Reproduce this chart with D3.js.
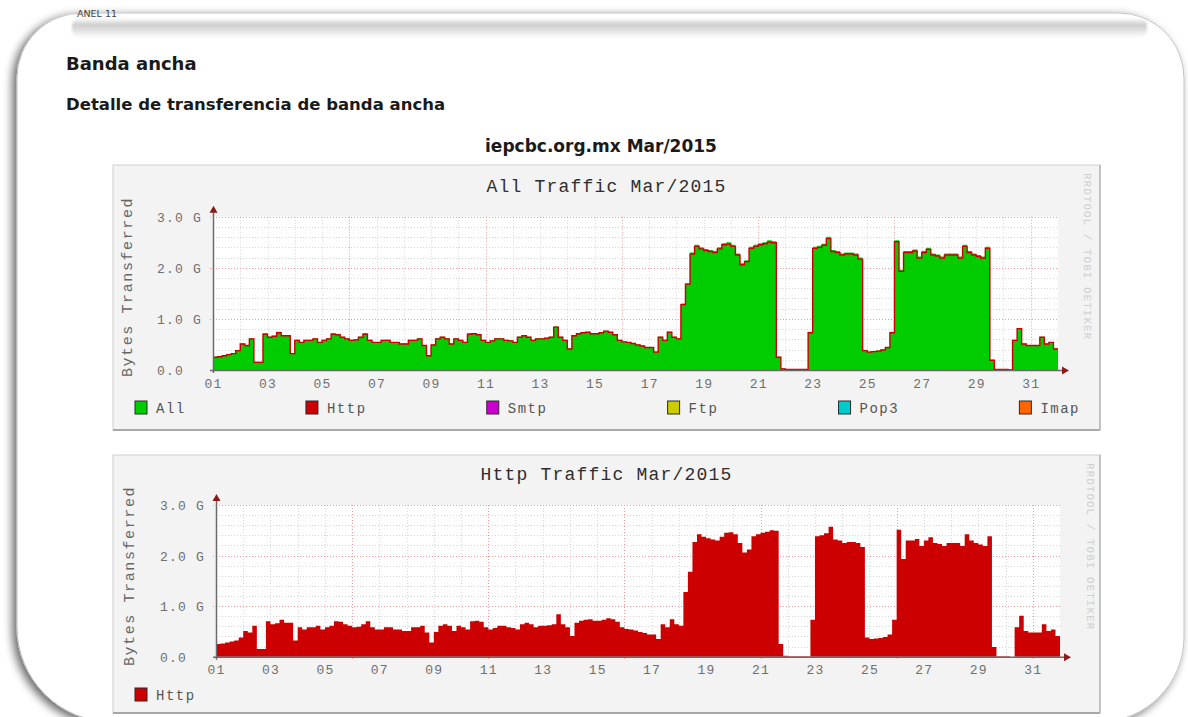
<!DOCTYPE html>
<html>
<head>
<meta charset="utf-8">
<title>Banda ancha</title>
<script src="https://cdn.jsdelivr.net/npm/d3@7"></script>
<style>
  html, body { margin: 0; padding: 0; background: #ffffff; }
  svg { display: block; }
</style>
</head>
<body>
<svg id="page" width="1188" height="717"></svg>
<script>
// ---------------------------------------------------------------
// Traffic for March 2015, in gigabytes, one value every 4 hours
// (six samples per day, 01 00:00 through 31 20:00).
// ---------------------------------------------------------------
const samplesPerDay = 6;

const allTraffic = [
  0.26, 0.27, 0.29, 0.31, 0.33, 0.39,   // 01
  0.52, 0.49, 0.62, 0.16, 0.16, 0.72,   // 02
  0.65, 0.67, 0.75, 0.68, 0.68, 0.33,   // 03
  0.59, 0.55, 0.59, 0.59, 0.62, 0.55,   // 04
  0.59, 0.62, 0.72, 0.70, 0.65, 0.62,   // 05
  0.59, 0.60, 0.65, 0.72, 0.59, 0.55,   // 06
  0.55, 0.59, 0.59, 0.55, 0.55, 0.52,   // 07
  0.52, 0.59, 0.59, 0.62, 0.49, 0.29,   // 08
  0.50, 0.62, 0.65, 0.62, 0.52, 0.62,   // 09
  0.59, 0.55, 0.72, 0.72, 0.70, 0.59,   // 10
  0.55, 0.58, 0.62, 0.62, 0.59, 0.58,   // 11
  0.55, 0.65, 0.68, 0.65, 0.59, 0.62,   // 12
  0.62, 0.63, 0.65, 0.85, 0.65, 0.59,   // 13
  0.42, 0.68, 0.72, 0.74, 0.75, 0.72,   // 14
  0.72, 0.74, 0.77, 0.75, 0.70, 0.59,   // 15
  0.56, 0.55, 0.53, 0.50, 0.48, 0.45,   // 16
  0.45, 0.36, 0.65, 0.59, 0.75, 0.65,   // 17
  0.62, 1.30, 1.70, 2.30, 2.45, 2.40,   // 18
  2.37, 2.35, 2.33, 2.40, 2.48, 2.50,   // 19
  2.45, 2.28, 2.09, 2.15, 2.41, 2.45,   // 20
  2.48, 2.50, 2.54, 2.52, 0.26, 0.03,   // 21
  0.02, 0.02, 0.02, 0.02, 0.02, 0.75,   // 22
  2.41, 2.43, 2.47, 2.61, 2.35, 2.33,   // 23
  2.28, 2.30, 2.30, 2.28, 2.20, 0.39,   // 24
  0.36, 0.37, 0.38, 0.40, 0.45, 0.75,   // 25
  2.54, 1.96, 2.33, 2.33, 2.36, 2.22,   // 26
  2.33, 2.39, 2.28, 2.26, 2.22, 2.28,   // 27
  2.28, 2.28, 2.22, 2.45, 2.33, 2.28,   // 28
  2.25, 2.22, 2.41, 0.20, 0.02, 0.02,   // 29
  0.02, 0.01, 0.59, 0.82, 0.52, 0.49,   // 30
  0.49, 0.49, 0.65, 0.52, 0.55, 0.42    // 31
];

const httpTraffic = [
  0.25, 0.26, 0.28, 0.30, 0.32, 0.38,   // 01
  0.51, 0.48, 0.61, 0.15, 0.15, 0.70,   // 02
  0.64, 0.66, 0.73, 0.67, 0.67, 0.32,   // 03
  0.58, 0.54, 0.58, 0.58, 0.61, 0.54,   // 04
  0.58, 0.61, 0.70, 0.69, 0.64, 0.61,   // 05
  0.58, 0.59, 0.64, 0.70, 0.58, 0.54,   // 06
  0.54, 0.58, 0.58, 0.54, 0.54, 0.51,   // 07
  0.51, 0.58, 0.58, 0.61, 0.48, 0.28,   // 08
  0.49, 0.61, 0.64, 0.61, 0.51, 0.61,   // 09
  0.58, 0.54, 0.70, 0.71, 0.69, 0.58,   // 10
  0.54, 0.57, 0.61, 0.61, 0.58, 0.57,   // 11
  0.54, 0.64, 0.67, 0.64, 0.58, 0.61,   // 12
  0.61, 0.62, 0.64, 0.84, 0.64, 0.58,   // 13
  0.41, 0.67, 0.71, 0.73, 0.74, 0.71,   // 14
  0.71, 0.73, 0.76, 0.74, 0.69, 0.58,   // 15
  0.55, 0.54, 0.52, 0.49, 0.47, 0.44,   // 16
  0.44, 0.35, 0.64, 0.58, 0.74, 0.64,   // 17
  0.61, 1.28, 1.68, 2.27, 2.42, 2.37,   // 18
  2.34, 2.32, 2.30, 2.37, 2.45, 2.46,   // 19
  2.42, 2.25, 2.06, 2.12, 2.38, 2.42,   // 20
  2.45, 2.47, 2.50, 2.49, 0.25, 0.02,   // 21
  0.01, 0.01, 0.01, 0.01, 0.01, 0.73,   // 22
  2.38, 2.40, 2.44, 2.57, 2.32, 2.30,   // 23
  2.25, 2.27, 2.27, 2.25, 2.17, 0.38,   // 24
  0.35, 0.36, 0.37, 0.39, 0.44, 0.73,   // 25
  2.51, 1.93, 2.30, 2.30, 2.33, 2.19,   // 26
  2.30, 2.36, 2.25, 2.23, 2.19, 2.25,   // 27
  2.25, 2.25, 2.19, 2.42, 2.30, 2.25,   // 28
  2.22, 2.19, 2.38, 0.19, 0.01, 0.01,   // 29
  0.01, 0.00, 0.58, 0.81, 0.51, 0.48,   // 30
  0.48, 0.48, 0.64, 0.51, 0.54, 0.41    // 31
];

const monthDays = [1, 32];                       // day 01 00:00 .. end of day 31
const xTickDays = [1, 3, 5, 7, 9, 11, 13, 15, 17, 19, 21, 23, 25, 27, 29, 31];
const xTickLabels = ["01", "03", "05", "07", "09", "11", "13", "15",
                     "17", "19", "21", "23", "25", "27", "29", "31"];
const yTickValues = [0, 1, 2, 3];
const yTickLabels = ["0.0", "1.0 G", "2.0 G", "3.0 G"];
const yMinorStep = 0.2;
const xMajorEvery = 5;

const allLegend = ["All", "Http", "Smtp", "Ftp", "Pop3", "Imap"];
const httpLegend = ["Http"];

// ---------------------------------------------------------------
// Styling
// ---------------------------------------------------------------
const palette = {
  All: "#00cc00", Http: "#cc0000", Smtp: "#cc00cc",
  Ftp: "#cccc00", Pop3: "#00cccc", Imap: "#ff6600"
};
const mono = "'Liberation Mono', 'DejaVu Sans Mono', monospace";
const sans = "'DejaVu Sans', Verdana, sans-serif";

const svg = d3.select("#page");
const defs = svg.append("defs");

// soft shadow under the rounded page frame
const shadow = defs.append("filter").attr("id", "frameShadow")
  .attr("x", "-5%").attr("y", "-5%").attr("width", "110%").attr("height", "110%");
shadow.append("feGaussianBlur").attr("in", "SourceAlpha").attr("stdDeviation", 5);
shadow.append("feOffset").attr("dx", -4).attr("dy", 3).attr("result", "off");
shadow.append("feComponentTransfer").append("feFuncA").attr("type", "linear").attr("slope", 0.6);
const merge = shadow.append("feMerge");
merge.append("feMergeNode");
merge.append("feMergeNode").attr("in", "SourceGraphic");

const band = defs.append("linearGradient").attr("id", "topBand")
  .attr("x1", 0).attr("y1", 0).attr("x2", 0).attr("y2", 1);
band.append("stop").attr("offset", "0%").attr("stop-color", "#ffffff");
band.append("stop").attr("offset", "35%").attr("stop-color", "#cdcdcd");
band.append("stop").attr("offset", "100%").attr("stop-color", "#ffffff");

defs.append("filter").attr("id", "soft")
  .append("feGaussianBlur").attr("stdDeviation", 1.2);

// ---------------------------------------------------------------
// Page frame
// ---------------------------------------------------------------
(function drawFrame() {
  const x0 = 17, y0 = 13, x1 = 1184, y1 = 722;
  const rTL = 65, rTR = 65, rBR = 85, rBL = 95;
  const p = d3.path();
  p.moveTo(x0 + rTL, y0);
  p.lineTo(x1 - rTR, y0);
  p.arcTo(x1, y0, x1, y0 + rTR, rTR);
  p.lineTo(x1, y1 - rBR);
  p.arcTo(x1, y1, x1 - rBR, y1, rBR);
  p.lineTo(x0 + rBL, y1);
  p.arcTo(x0, y1, x0, y1 - rBL, rBL);
  p.lineTo(x0, y0 + rTL);
  p.arcTo(x0, y0, x0 + rTL, y0, rTL);
  p.closePath();
  svg.append("path").attr("d", p.toString())
    .attr("fill", "#ffffff").attr("stroke", "#c2c2c2").attr("stroke-width", 1)
    .attr("filter", "url(#frameShadow)");

  svg.append("rect").attr("x", 72).attr("y", 18).attr("width", 1075).attr("height", 20)
    .attr("rx", 8).attr("fill", "url(#topBand)").attr("filter", "url(#soft)");

  svg.append("text").attr("x", 77).attr("y", 17)
    .attr("font-family", sans).attr("font-size", 9.5).attr("fill", "#444")
    .text("ANEL 11");
})();

// ---------------------------------------------------------------
// Headings
// ---------------------------------------------------------------
svg.append("text").attr("x", 66).attr("y", 70)
  .attr("font-family", sans).attr("font-weight", "bold").attr("font-size", 18)
  .attr("fill", "#1a1a1a").text("Banda ancha");
svg.append("text").attr("x", 66).attr("y", 110)
  .attr("font-family", sans).attr("font-weight", "bold").attr("font-size", 16.5)
  .attr("fill", "#1a1a1a").text("Detalle de transferencia de banda ancha");
svg.append("text").attr("x", 601).attr("y", 152).attr("text-anchor", "middle")
  .attr("font-family", sans).attr("font-weight", "bold").attr("font-size", 17)
  .attr("fill", "#1a1a1a").text("iepcbc.org.mx Mar/2015");

// ---------------------------------------------------------------
// One traffic panel
// ---------------------------------------------------------------
function drawPanel(cfg) {
  const g = svg.append("g");
  const b = cfg.box, p = cfg.plot;

  g.append("rect").attr("x", b.x).attr("y", b.y).attr("width", b.w).attr("height", b.h)
    .attr("fill", "#f3f3f3").attr("stroke", "#cfcfcf");
  g.append("line").attr("x1", b.x).attr("x2", b.x + b.w).attr("y1", b.y + b.h).attr("y2", b.y + b.h)
    .attr("stroke", "#a9a9a9").attr("stroke-width", 2);
  g.append("line").attr("x1", b.x + b.w).attr("x2", b.x + b.w).attr("y1", b.y).attr("y2", b.y + b.h)
    .attr("stroke", "#b4b4b4").attr("stroke-width", 1.5);

  const x = d3.scaleLinear().domain(monthDays).range([p.l, p.r]);
  const y = d3.scaleLinear().domain([yTickValues[0], yTickValues[yTickValues.length - 1]])
    .range([p.b, p.t]);

  g.append("rect").attr("x", p.l).attr("y", p.t).attr("width", p.r - p.l).attr("height", p.b - p.t)
    .attr("fill", "#ffffff");

  // grid
  const grid = g.append("g").attr("stroke-dasharray", "1,2").attr("stroke-width", 1);
  const yMax = y.domain()[1];
  const minorY = d3.range(yMinorStep, yMax + 1e-9, yMinorStep)
    .filter(v => Math.abs(v - Math.round(v)) > 1e-6);
  grid.selectAll(".minY").data(minorY).join("line")
    .attr("x1", p.l).attr("x2", p.r)
    .attr("y1", d => Math.round(y(d)) + 0.5).attr("y2", d => Math.round(y(d)) + 0.5)
    .attr("stroke", "#d6d6d6");
  const dayLines = d3.range(monthDays[0] + 1, monthDays[1]);
  grid.selectAll(".minX").data(dayLines.filter(d => (d - 1) % xMajorEvery !== 0)).join("line")
    .attr("y1", p.t).attr("y2", p.b)
    .attr("x1", d => Math.round(x(d)) + 0.5).attr("x2", d => Math.round(x(d)) + 0.5)
    .attr("stroke", "#d6d6d6");
  grid.selectAll(".majX").data(dayLines.filter(d => (d - 1) % xMajorEvery === 0)).join("line")
    .attr("y1", p.t).attr("y2", p.b + 3)
    .attr("x1", d => Math.round(x(d)) + 0.5).attr("x2", d => Math.round(x(d)) + 0.5)
    .attr("stroke", "#f29a9a");
  grid.selectAll(".majY").data(yTickValues.slice(1)).join("line")
    .attr("x1", p.l - 3).attr("x2", p.r)
    .attr("y1", d => Math.round(y(d)) + 0.5).attr("y2", d => Math.round(y(d)) + 0.5)
    .attr("stroke", "#f29a9a");

  // series
  const toPoints = values => {
    const pts = values.map((v, i) => ({ t: monthDays[0] + i / samplesPerDay, v }));
    pts.push({ t: monthDays[1], v: values[values.length - 1] });
    return pts;
  };
  const area = d3.area().curve(d3.curveStepAfter)
    .x(d => x(d.t)).y0(y(0)).y1(d => y(d.v));
  const line = d3.line().curve(d3.curveStepAfter)
    .x(d => x(d.t)).y(d => y(d.v));

  cfg.areas.forEach(s => {
    g.append("path").attr("d", area(toPoints(s.values))).attr("fill", palette[s.name]);
  });
  (cfg.lines || []).forEach(s => {
    g.append("path").attr("d", line(toPoints(s.values)))
      .attr("fill", "none").attr("stroke", palette[s.name]).attr("stroke-width", 1.4);
  });

  // axes with arrow heads
  const axisColor = "#6a6a6a", arrowColor = "#8b1a1a";
  g.append("line").attr("x1", p.l + 0.5).attr("x2", p.l + 0.5).attr("y1", p.b + 3).attr("y2", p.t - 6)
    .attr("stroke", axisColor).attr("stroke-width", 1.5);
  g.append("line").attr("x1", p.l - 3).attr("x2", p.r + 5).attr("y1", p.b + 0.5).attr("y2", p.b + 0.5)
    .attr("stroke", axisColor).attr("stroke-width", 1.5);
  g.append("path").attr("fill", arrowColor)
    .attr("d", `M${p.l + 0.5},${p.t - 11} L${p.l - 3.5},${p.t - 4} L${p.l + 4.5},${p.t - 4} Z`);
  g.append("path").attr("fill", arrowColor)
    .attr("d", `M${p.r + 11},${p.b + 0.5} L${p.r + 4},${p.b - 3.5} L${p.r + 4},${p.b + 4.5} Z`);

  // tick labels via d3 axes
  const xAxis = d3.axisBottom(x).tickValues(xTickDays)
    .tickFormat((d, i) => xTickLabels[i]).tickSize(0).tickPadding(0);
  const xg = g.append("g").attr("transform", `translate(0,${cfg.xLabelY})`).call(xAxis);
  xg.select(".domain").remove();
  xg.selectAll("text").attr("dy", 0).attr("y", 0)
    .attr("font-family", mono).attr("font-size", 13).attr("letter-spacing", 1.2)
    .attr("fill", "#6f6f6f");

  const yAxis = d3.axisLeft(y).tickValues(yTickValues)
    .tickFormat((d, i) => yTickLabels[i]).tickSize(0);
  const yg = g.append("g").attr("transform", `translate(${p.l},0)`).call(yAxis);
  yg.select(".domain").remove();
  yg.selectAll("text").attr("x", cfg.yLabelX - p.l).attr("text-anchor", "start").attr("dy", "0.35em")
    .attr("font-family", mono).attr("font-size", 13).attr("letter-spacing", 1.2)
    .attr("fill", "#6f6f6f");

  // titles
  g.append("text").attr("x", b.x + b.w / 2).attr("y", cfg.titleY).attr("text-anchor", "middle")
    .attr("font-family", mono).attr("font-size", 18).attr("letter-spacing", 1.2)
    .attr("fill", "#2e2e2e").text(cfg.title);
  g.append("text")
    .attr("transform", `translate(${cfg.yTitleX},${cfg.yTitleY}) rotate(-90)`)
    .attr("text-anchor", "middle")
    .attr("font-family", mono).attr("font-size", 15).attr("letter-spacing", 1.6)
    .attr("fill", "#666").text("Bytes Transferred");
  g.append("text")
    .attr("transform", `translate(${cfg.sideX},${b.y + 8}) rotate(90)`)
    .attr("font-family", mono).attr("font-size", 11).attr("letter-spacing", 1)
    .attr("fill", "#cfcfcf").text("RRDTOOL / TOBI OETIKER");

  // legend, spread across the panel width
  const lg = g.append("g");
  const items = lg.selectAll("g").data(cfg.legend).join("g");
  items.append("rect").attr("width", 12).attr("height", 13)
    .attr("y", -7).attr("fill", d => palette[d]).attr("stroke", "#2a2a2a").attr("stroke-width", 1);
  items.append("text").attr("x", 21).attr("y", 0).attr("dy", "0.35em")
    .attr("font-family", mono).attr("font-size", 14).attr("letter-spacing", 1.5)
    .attr("fill", "#555").text(d => d);
  const widths = [];
  items.each(function () { widths.push(this.getBBox().width); });
  const total = d3.sum(widths);
  const gap = cfg.legend.length > 1
    ? (cfg.legendRight - cfg.legendLeft - total) / (cfg.legend.length - 1) : 0;
  let cursor = cfg.legendLeft;
  items.attr("transform", (d, i) => {
    const tx = cursor;
    cursor += widths[i] + gap;
    return `translate(${tx},${cfg.legendY})`;
  });
}

drawPanel({
  box: { x: 113, y: 165, w: 987, h: 265 },
  plot: { l: 213, r: 1058, t: 216.7, b: 370 },
  title: "All Traffic Mar/2015", titleY: 192,
  xLabelY: 388, yLabelX: 157, yTitleX: 132, yTitleY: 287, sideX: 1084,
  areas: [{ name: "All", values: allTraffic }],
  lines: [{ name: "Http", values: httpTraffic }],
  legend: allLegend, legendY: 408, legendLeft: 135, legendRight: 1080
});

drawPanel({
  box: { x: 113, y: 455, w: 987, h: 258 },
  plot: { l: 216, r: 1060, t: 505, b: 656.7 },
  title: "Http Traffic Mar/2015", titleY: 480,
  xLabelY: 674, yLabelX: 160, yTitleX: 134, yTitleY: 576, sideX: 1087,
  areas: [{ name: "Http", values: httpTraffic }],
  lines: [],
  legend: httpLegend, legendY: 695, legendLeft: 135, legendRight: 300
});
</script>
</body>
</html>
